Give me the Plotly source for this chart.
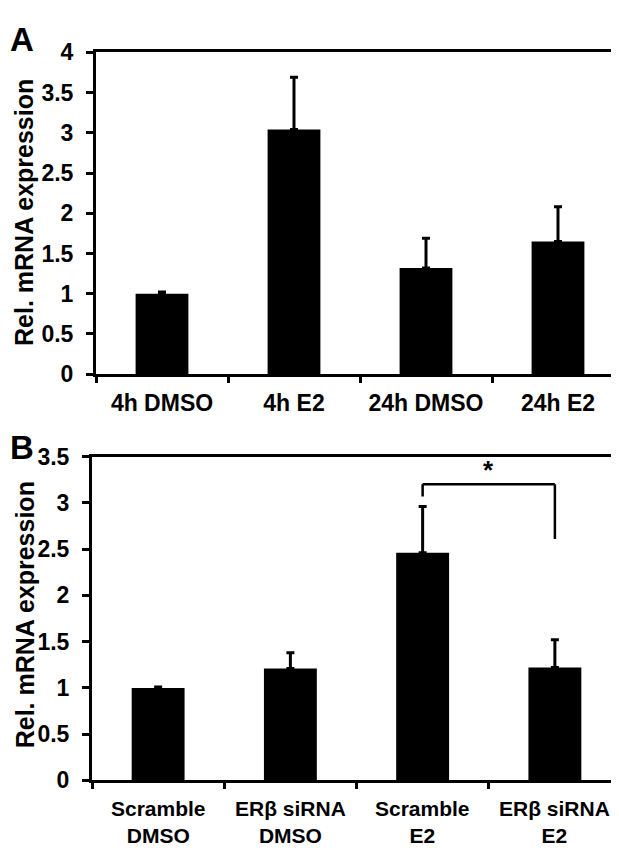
import plotly.graph_objects as go

# Panel A data
cats_a = ["4h DMSO", "4h E2", "24h DMSO", "24h E2"]
vals_a = [1.0, 3.04, 1.32, 1.65]
err_a = [0.02, 0.65, 0.37, 0.43]

# Panel B data (two-line category labels)
cats_b_line1 = ["Scramble", "ERβ siRNA", "Scramble", "ERβ siRNA"]
cats_b_line2 = ["DMSO", "DMSO", "E2", "E2"]
vals_b = [1.0, 1.21, 2.46, 1.22]
err_b = [0.01, 0.17, 0.50, 0.30]
cats_b = [f"{a}<br>{b}" for a, b in zip(cats_b_line1, cats_b_line2)]

# significance bracket (between Scramble E2 and ERβ siRNA E2)
bracket_top = 3.20
bracket_left_bottom = 3.07
bracket_right_bottom = 2.61
star_y = 3.35

W, H = 619, 853
FONT = "Liberation Sans, Arial, sans-serif"
TICK_SIZE = 23

def px_x(p):
    return p / W

def px_y(p):
    return 1 - p / H

fig = go.Figure()

fig.add_trace(go.Bar(
    x=cats_a, y=vals_a, xaxis="x", yaxis="y",
    marker=dict(color="black", line=dict(width=0)), width=0.4,
    error_y=dict(type="data", array=err_a, arrayminus=[0]*4, symmetric=False,
                 color="black", thickness=3, width=4),
    showlegend=False,
))
fig.add_trace(go.Bar(
    x=cats_b, y=vals_b, xaxis="x2", yaxis="y2",
    marker=dict(color="black", line=dict(width=0)), width=0.4,
    error_y=dict(type="data", array=err_b, arrayminus=[0]*4, symmetric=False,
                 color="black", thickness=3, width=4),
    showlegend=False,
))

axis_common = dict(
    showline=True, linecolor="black", linewidth=3, mirror=True,
    showgrid=False, zeroline=False,
    ticks="outside", tickcolor="black", tickwidth=3,
    tickfont=dict(family=FONT, size=TICK_SIZE, color="black", weight="bold"),
)

fig.update_layout(
    width=W, height=H,
    margin=dict(l=0, r=0, t=0, b=0),
    paper_bgcolor="white", plot_bgcolor="white",
    xaxis=dict(domain=[px_x(88), px_x(616)], anchor="y", type="category",
               tickson="boundaries", ticklen=6, range=[-0.5, 3.5],
               ticklabelstandoff=6, **axis_common),
    yaxis=dict(domain=[px_y(364.3), px_y(32.3)], anchor="x", range=[0, 4],
               dtick=0.5, ticklen=7, ticklabelstandoff=8, **axis_common),
    xaxis2=dict(domain=[px_x(84), px_x(613)], anchor="y2", type="category",
                tickson="boundaries", ticklen=6, range=[-0.5, 3.5],
                showticklabels=False, **axis_common),
    yaxis2=dict(domain=[px_y(783.3), px_y(449.3)], anchor="x2", range=[0, 3.5],
                dtick=0.5, ticklen=7, ticklabelstandoff=8, **axis_common),
)

xlab_font = dict(family=FONT, size=21, color="black", weight="bold")
for i, lab in enumerate(cats_b):
    fig.add_annotation(text=lab, xref="x2", yref="paper", x=i, y=px_y(826),
                       xanchor="center", yanchor="middle", showarrow=False, font=xlab_font)

title_font = dict(family=FONT, size=25, color="black", weight="bold")
letter_font = dict(family=FONT, size=33, color="black", weight="bold")
fig.add_annotation(text="Rel. mRNA expression", textangle=-90, xref="paper", yref="paper",
                   x=px_x(16), y=px_y(198), xanchor="center", yanchor="middle",
                   showarrow=False, font=title_font)
fig.add_annotation(text="Rel. mRNA expression", textangle=-90, xref="paper", yref="paper",
                   x=px_x(17), y=px_y(613), xanchor="center", yanchor="middle",
                   showarrow=False, font=title_font)
fig.add_annotation(text="A", xref="paper", yref="paper", x=0, y=px_y(19),
                   xanchor="left", yanchor="middle", showarrow=False, font=letter_font)
fig.add_annotation(text="B", xref="paper", yref="paper", x=0, y=px_y(440),
                   xanchor="left", yanchor="middle", showarrow=False, font=letter_font)

# bracket
line_style = dict(color="black", width=2.5)
fig.add_shape(type="line", xref="x2", yref="y2", x0=2, x1=3, y0=bracket_top, y1=bracket_top, line=line_style)
fig.add_shape(type="line", xref="x2", yref="y2", x0=2, x1=2, y0=bracket_left_bottom, y1=bracket_top, line=line_style)
fig.add_shape(type="line", xref="x2", yref="y2", x0=3, x1=3, y0=bracket_right_bottom, y1=bracket_top, line=line_style)
fig.add_annotation(text="*", xref="x2", yref="y2", x=2.5, y=star_y, showarrow=False,
                   xanchor="center", yanchor="middle",
                   font=dict(family=FONT, size=26, color="black", weight="bold"))

fig.write_html("out.html")
